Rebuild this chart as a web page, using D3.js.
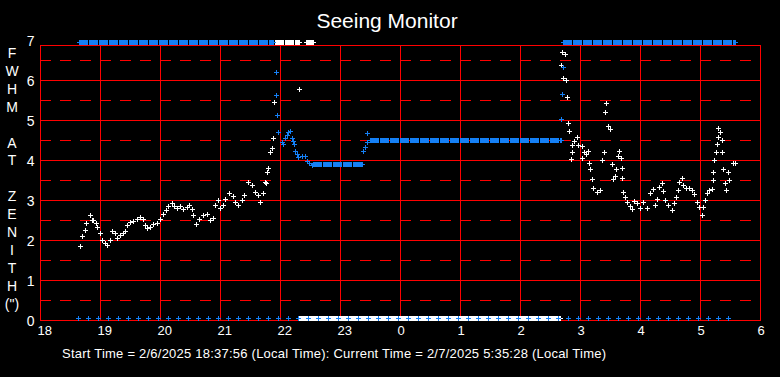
<!DOCTYPE html>
<html>
<head>
<meta charset="utf-8">
<script src="https://cdn.jsdelivr.net/npm/d3@7"></script>
<style>
html, body { margin: 0; padding: 0; background: #000; }
svg { display: block; font-family: "Liberation Sans", Arial, sans-serif; }
</style>
</head>
<body>
<div id="chart"></div>
<script>
// time is minutes after 18:00 local, values are FWHM (arcsec)
var hourTicks = [0, 60, 120, 180, 240, 300, 360, 420, 480, 540, 600, 660, 720];
var hourLabels = ["18", "19", "20", "21", "22", "23", "0", "1", "2", "3", "4", "5", "6"];
var yTicks = [0, 1, 2, 3, 4, 5, 6, 7];
var gridMajor = [1, 2, 3, 4, 5, 6];
var gridMinor = [0.5, 1.5, 2.5, 3.5, 4.5, 5.5, 6.5];
var axisLetters = ["F", "W", "H", "M", "", "A", "T", "", "Z", "E", "N", "I", "T", "H", "(\")"];

// white instrument, single readings
var whitePoints = [
    [40,1.85],[42,2.1],[45,2.25],[46,2.42],[50,2.62],[52,2.5],[53,2.5],[56,2.42],[57,2.33],
    [60,2.18],[62,2.0],[65,1.92],[67,1.88],[70,2.0],[72,2.22],[75,2.18],[77,2.05],[80,2.12],
    [83,2.18],[85,2.22],[87,2.37],[90,2.45],[93,2.48],[97,2.52],[100,2.57],[103,2.52],[105,2.37],
    [107,2.3],[110,2.33],[113,2.4],[117,2.42],[120,2.52],[123,2.65],[126,2.75],[128,2.85],
    [132,2.93],[134,2.85],[137,2.8],[140,2.85],[143,2.77],[147,2.82],[149,2.87],[152,2.77],
    [153,2.62],[156,2.4],[159,2.52],[163,2.62],[167,2.65],[170,2.5],[173,2.55],[175,2.87],
    [178,3.0],[180,2.8],[183,2.87],[185,3.02],[189,3.17],[193,3.1],[195,2.95],[198,2.87],
    [202,3.0],[204,3.12],[208,3.45],[212,3.37],[215,3.2],[218,3.12],[220,2.95],[223,3.17],
    [225,3.46],[226,3.42],[227,3.71],[228,3.79],[230,4.19],[232,4.31],[233,4.54],[234,5.44],
    [259,5.77],
    [521,6.37],[522,6.71],[523,6.06],[525,6.64],[526,6.0],[527,5.58],[528,4.93],[529,4.73],
    [531,4.02],[532,4.19],[532,4.38],[534,4.48],[537,4.57],[538,4.38],[542,4.35],[542,4.06],
    [544,4.2],[546,4.14],[548,4.22],[549,3.92],[550,3.77],[552,3.53],[553,3.31],[557,3.21],
    [560,3.25],[562,4.0],[564,4.19],[565,5.19],[566,5.42],[568,4.86],[570,4.78],[572,3.89],
    [573,3.53],[575,3.6],[576,3.77],[578,4.11],[579,4.23],[581,4.04],[582,3.79],[582,3.54],
    [583,3.21],[585,3.07],[587,2.95],[590,2.85],[592,2.77],[594,2.97],[597,2.92],[600,2.8],
    [603,2.95],[607,2.8],[610,3.17],[613,3.27],[615,2.87],[617,3.02],[619,3.32],[622,3.42],
    [623,3.22],[625,3.0],[628,2.87],[632,2.75],[634,2.92],[636,3.07],[638,3.25],[639,3.45],
    [642,3.55],[643,3.37],[646,3.3],[649,3.3],[652,3.25],[654,3.15],[657,2.95],[659,2.82],
    [662,2.62],[663,2.82],[665,3.0],[667,3.17],[669,3.25],[672,3.27],[673,3.5],[673,3.7],
    [674,4.0],[676,4.2],[677,4.4],[678,4.57],[678,4.8],[680,4.7],[682,4.5],[682,4.2],
    [683,3.77],[685,3.42],[686,3.25],[688,3.7],[689,3.5],[693,3.92],[695,3.92]
];
// white instrument, dense runs at one level: [from, to, value]
var whiteRuns = [[235,259,6.94],[266,273,6.94],[259,520,0.05]];

// blue instrument
var bluePoints = [
    [235.7,6.19],[236.3,5.62],[237.3,5.12],[238.3,4.69],[241.7,4.46],[243.3,4.39],[245,4.54],
    [246.7,4.62],[248.3,4.69],[250,4.72],[251.7,4.56],[253.3,4.48],[254.3,4.39],[255,4.22],
    [256.7,4.14],[258.3,4.08],[261.7,4.11],[265,4.11],[266.7,3.97],[269,3.92],[271.7,3.88],
    [323,4.22],[325,4.32],[327,4.45],[327,4.67],[521,5.02],[522.3,5.64],[523.3,6.32]
];
var blueRuns = [[39,233,6.94],[273,322,3.9],[330,521,4.5],[523,695,6.94]];
// blue zero samples every ten minutes
var blueZeroTimes = [38,48,58,68,78,88,98,108,118,128,138,148,158,168,178,188,198,208,218,228,
    238,248,258,268,278,288,298,308,318,328,338,348,358,368,378,388,398,408,418,428,
    438,448,458,468,478,488,498,508,518,528,538,548,558,568,578,588,598,608,618,628,
    638,648,658,668,678,688];
var zeroLevel = 0.05;

var W = 780, H = 377;
var red = "#ff0000", blue = "#1580f5", white = "#ffffff";
var frameTop = 6.875;

var svg = d3.select("#chart").append("svg")
    .attr("width", W)
    .attr("height", H);
svg.append("rect").attr("width", W).attr("height", H).attr("fill", "#000");

var x = d3.scaleLinear().domain([0, 720]).range([40, 760]);
var y = d3.scaleLinear().domain([0, 7]).range([320, 40]);

// title
svg.append("text")
    .attr("x", 387).attr("y", 28)
    .attr("text-anchor", "middle")
    .attr("fill", white)
    .style("font-size", "21px")
    .text("Seeing Monitor");

//------- grid ----------
var grid = svg.append("g").attr("stroke", red).attr("shape-rendering", "crispEdges");
grid.selectAll("line.major").data(gridMajor).enter().append("line")
    .attr("class", "major")
    .attr("x1", x(0)).attr("x2", x(720))
    .attr("y1", function(d) { return y(d); })
    .attr("y2", function(d) { return y(d); });
grid.selectAll("line.minor").data(gridMinor).enter().append("line")
    .attr("class", "minor")
    .attr("stroke-dasharray", "11,9")
    .attr("x1", x(0)).attr("x2", x(720))
    .attr("y1", function(d) { return y(d); })
    .attr("y2", function(d) { return y(d); });
grid.selectAll("line.vert").data(hourTicks).enter().append("line")
    .attr("class", "vert")
    .attr("x1", function(d) { return x(d); })
    .attr("x2", function(d) { return x(d); })
    .attr("y1", y(frameTop)).attr("y2", y(0));
grid.append("rect")
    .attr("x", x(0)).attr("y", y(frameTop))
    .attr("width", x(720) - x(0)).attr("height", y(0) - y(frameTop))
    .attr("fill", "none");

//------- axes ----------
var xAxis = d3.axisBottom(x)
    .tickValues(hourTicks)
    .tickSize(0)
    .tickFormat(function(d, i) { return hourLabels[i]; });
var xg = svg.append("g").attr("transform", "translate(0,320)").call(xAxis);
xg.select(".domain").remove();
xg.attr("font-family", null).attr("font-size", null);
xg.selectAll("text")
    .attr("fill", white)
    .attr("text-anchor", "start")
    .attr("x", -3).attr("y", 15).attr("dy", 0)
    .style("font-size", "13px");

var yAxis = d3.axisLeft(y).tickValues(yTicks).tickSize(0).tickFormat(d3.format("d"));
var yg = svg.append("g").attr("transform", "translate(40,0)").call(yAxis);
yg.select(".domain").remove();
yg.attr("font-family", null).attr("font-size", null);
yg.selectAll("text")
    .attr("fill", white)
    .attr("x", -5.5).attr("dy", 5)
    .style("font-size", "14px");

svg.append("g").selectAll("text").data(axisLetters).enter().append("text")
    .attr("x", 12)
    .attr("y", function(d, i) { return 58 + i * 17.9; })
    .attr("text-anchor", "middle")
    .attr("fill", white)
    .style("font-size", "14px")
    .text(function(d) { return d; });

svg.append("text")
    .attr("x", 62).attr("y", 358)
    .attr("fill", white)
    .attr("textLength", 544)
    .attr("lengthAdjust", "spacing")
    .style("font-size", "13px")
    .text("Start Time = 2/6/2025 18:37:56 (Local Time): Current Time = 2/7/2025 5:35:28 (Local Time)");

//------- data ----------
var plus = "M-2,0.5H3M0.5,-2V3";
function drawRuns(runs, color) {
    var g = svg.append("g");
    g.selectAll("line").data(runs).enter().append("line")
        .attr("x1", function(d) { return Math.round(x(d[0])); })
        .attr("x2", function(d) { return Math.round(x(d[1])); })
        .attr("y1", function(d) { return Math.round(y(d[2])) + 0.5; })
        .attr("y2", function(d) { return Math.round(y(d[2])) + 0.5; })
        .attr("stroke", color)
        .attr("stroke-width", 5)
        .attr("stroke-dasharray", "9,1")
        .attr("shape-rendering", "crispEdges");
    var ends = [];
    runs.forEach(function(r) { ends.push([r[0], r[2]]); ends.push([r[1], r[2]]); });
    drawPoints(ends, color);
}
function drawPoints(pts, color) {
    svg.append("g").selectAll("path").data(pts).enter().append("path")
        .attr("d", plus)
        .attr("transform", function(d) {
            return "translate(" + Math.round(x(d[0])) + "," + Math.round(y(d[1])) + ")";
        })
        .attr("fill", "none")
        .attr("stroke", color)
        .attr("stroke-width", 1)
        .attr("shape-rendering", "crispEdges");
}
drawRuns(whiteRuns, white);
drawPoints(whitePoints, white);
drawRuns(blueRuns, blue);
drawPoints(bluePoints, blue);
drawPoints(blueZeroTimes.map(function(t) { return [t, zeroLevel]; }), blue);
</script>
</body>
</html>
